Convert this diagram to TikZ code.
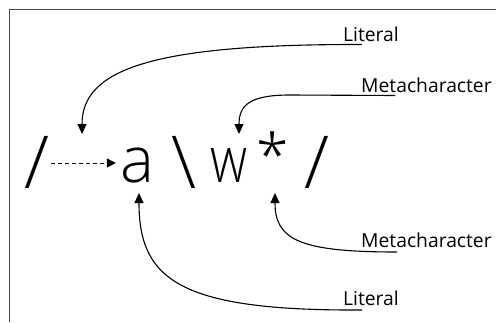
\documentclass[tikz,border=0pt]{standalone}
\usepackage{fontspec}
\setmainfont{Open Sans}
\newfontfamily\bigfont{Open Sans Light}
\usetikzlibrary{arrows.meta,calc}
\begin{document}
\begin{tikzpicture}[x=1pt,y=-1pt,
  big/.style={font=\bigfont\fontsize{64}{70}\selectfont, inner sep=0pt, anchor=center},
  tall/.style={font=\bigfont\fontsize{73}{80}\selectfont, inner sep=0pt, anchor=center},
  lbl/.style={font=\fontsize{19.3}{21}\selectfont, inner sep=0pt, anchor=base west},
  conn/.style={line width=1.1pt, -{Triangle[length=10pt,width=9pt]}},
  dconn/.style={line width=1pt, dash pattern=on 4pt off 3pt, -{Triangle[length=9pt,width=9pt]}},
  frame/.style={line width=1pt, draw=black!72}
]
\useasboundingbox (0,0) rectangle (496,322);
\draw[frame] (9,322) -- (9,9) -- (496,9);

\node[tall] (s1) at (37,162) {/};
\node[big] (a) at (137,166) {a};
\node[tall] (bs) at (184,162) {\textbackslash};
\node[big] (w) at (229.5,165.5) {\scalebox{0.8}[1]{w}};
\node[big] (st) at (273,154) {\scalebox{0.92}{*}};
\node[tall] (s2) at (316.5,162) {/};

\node[lbl] (lit1) at (343,41) {Literal};
\node[lbl] (meta1) at (361,92) {Metacharacter};
\node[lbl] (meta2) at (361,247) {Metacharacter};
\node[lbl] (lit2) at (343,305) {Literal};

\coordinate (dy) at (0,163);
\coordinate (t1) at (82,134);
\coordinate (t2) at (239,134);
\coordinate (t3) at (275,193);
\coordinate (t4) at (139,193);

\draw[dconn] (51,163 |- dy) -- ([xshift=-4pt]a.west |- dy);
\draw[conn] ($(lit1.base west)+(19,3.5)$) .. controls (150,44) and (82,70) .. (t1);
\draw[conn] ($(meta1.base west)+(34,3.5)$) -- (290,95) .. controls (250,95) and (239,105) .. (t2);
\draw[conn] ($(meta2.base west)+(36,5)$) .. controls (300,252) and (275,240) .. (t3);
\draw[conn] ($(lit2.base west)+(19,5)$) .. controls (180,311) and (139,280) .. (t4);
\end{tikzpicture}
\end{document}
